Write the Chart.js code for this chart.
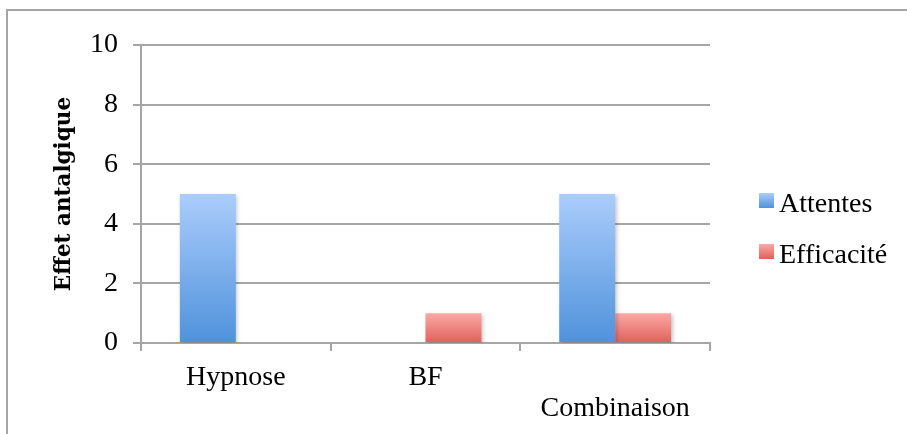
<!DOCTYPE html>
<html>
<head>
<meta charset="utf-8">
<script src="https://cdn.jsdelivr.net/npm/chart.js@4/dist/chart.umd.min.js"></script>
<style>
  html, body { margin: 0; padding: 0; background: #fff; }
  canvas { display: block; }
</style>
</head>
<body>
<canvas id="c" width="907" height="434"></canvas>
<script>
// Categories, series and axis settings
const categories = ['Hypnose', 'BF', ['', 'Combinaison']];
const seriesNames = ['Attentes', 'Efficacité'];
const attentes = [5, 0, 5];
const efficacite = [0, 1, 1];
const yMin = 0, yMax = 10, yStep = 2;
const yTitle = 'Effet antalgique';

const SERIF = '"Liberation Serif", "Times New Roman", serif';
const GRID = '#a6a6a6';
const blueTop = '#abcdfc', blueBottom = '#4f92db';
const redTop = '#fca9a5', redBottom = '#df605a';

// Vertical gradient spanning each bar from its top to the zero line
function barFill(top, bottom) {
  return (c) => {
    const chart = c.chart;
    const y = chart.scales && chart.scales.y;
    if (!y || c.raw == null) return bottom;
    const yTop = y.getPixelForValue(c.raw);
    const yBase = y.getPixelForValue(0);
    if (!isFinite(yTop) || !isFinite(yBase) || yTop === yBase) return bottom;
    const g = chart.ctx.createLinearGradient(0, yTop, 0, yBase);
    g.addColorStop(0, top);
    g.addColorStop(1, bottom);
    return g;
  };
}

const legendColors = [[blueTop, blueBottom], [redTop, redBottom]];

// Frame, soft bar shadow and the side legend
const decor = {
  id: 'decor',
  beforeDraw(chart) {
    const ctx = chart.ctx;
    ctx.save();
    ctx.strokeStyle = GRID;
    ctx.lineWidth = 2;
    ctx.strokeRect(7, 10, 2000, 2000);
    ctx.restore();
  },
  beforeDatasetsDraw(chart) {
    const ctx = chart.ctx;
    ctx.save();
    ctx.shadowColor = 'rgba(0,0,0,0.22)';
    ctx.shadowBlur = 4;
    ctx.shadowOffsetX = 1.5;
    ctx.shadowOffsetY = 1.5;
  },
  afterDatasetsDraw(chart) {
    chart.ctx.restore();
  },
  afterDraw(chart) {
    const ctx = chart.ctx;
    ctx.save();
    ctx.font = '28px ' + SERIF;
    ctx.textBaseline = 'alphabetic';
    ctx.textAlign = 'left';
    chart.data.datasets.forEach((ds, i) => {
      const base = 212 + i * 51;
      const top = base - 19;
      const g = ctx.createLinearGradient(0, top, 0, top + 15);
      g.addColorStop(0, legendColors[i][0]);
      g.addColorStop(1, legendColors[i][1]);
      ctx.fillStyle = g;
      ctx.fillRect(759, top, 15, 15);
      ctx.fillStyle = '#000';
      ctx.fillText(ds.label, 779, base);
    });
    ctx.restore();
  }
};

new Chart(document.getElementById('c'), {
  type: 'bar',
  data: {
    labels: categories,
    datasets: [
      { label: seriesNames[0], data: attentes, backgroundColor: barFill(blueTop, blueBottom) },
      { label: seriesNames[1], data: efficacite, backgroundColor: barFill(redTop, redBottom) }
    ]
  },
  options: {
    responsive: false,
    animation: false,
    events: [],
    layout: { padding: { left: 7, top: 45, right: 197, bottom: 0 } },
    datasets: { bar: { categoryPercentage: 0.59, barPercentage: 1.0, borderWidth: 0 } },
    plugins: { legend: { display: false }, tooltip: { enabled: false } },
    scales: {
      x: {
        grid: { drawOnChartArea: false, drawTicks: true, tickLength: 8, color: GRID, lineWidth: 2, offset: true },
        border: { display: true, color: GRID, width: 2 },
        ticks: {
          autoSkip: false, maxRotation: 0, minRotation: 0, padding: 11, color: '#000',
          font: { family: SERIF, size: 28, lineHeight: 1.107 }
        },
        afterFit(scale) { scale.height = 91; }
      },
      y: {
        min: yMin, max: yMax,
        grid: { color: GRID, lineWidth: 2, drawTicks: true, tickLength: 8 },
        border: { display: true, color: GRID, width: 2 },
        ticks: { stepSize: yStep, padding: 15, color: '#000', font: { family: SERIF, size: 28 } },
        title: {
          display: true, text: yTitle, color: '#000',
          font: { family: '"DejaVu Serif", serif', size: 21.5, weight: 'bold', lineHeight: 1.2 },
          padding: { top: 45, bottom: 0 }
        },
        afterFit(scale) { scale.width = 134; }
      }
    }
  },
  plugins: [decor]
});
</script>
</body>
</html>
